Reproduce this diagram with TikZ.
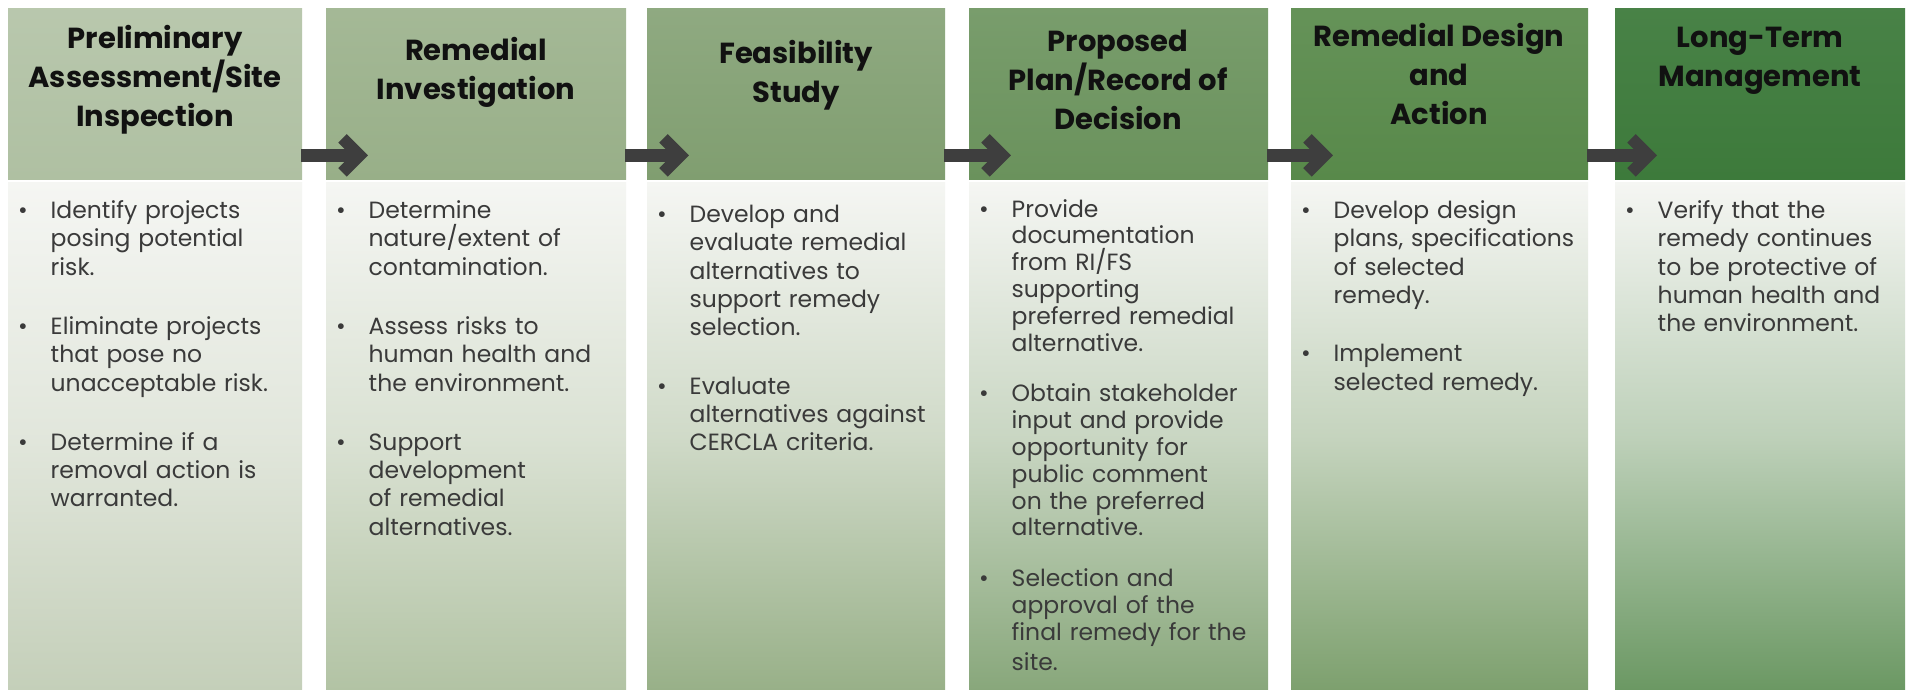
\documentclass[tikz,border=0pt]{standalone}
\usepackage{fontspec}
\setmainfont{Poppins}
\usetikzlibrary{calc}

% header fills, light to dark
\definecolor{hdrA}{HTML}{AFC0A2}
\definecolor{hdrB}{HTML}{98AF88}
\definecolor{hdrC}{HTML}{809E70}
\definecolor{hdrD}{HTML}{6A925C}
\definecolor{hdrE}{HTML}{58894A}
\definecolor{hdrF}{HTML}{3D7A3B}
% body gradient end colours
\definecolor{botA}{HTML}{C4CFB9}
\definecolor{botB}{HTML}{B2C3A4}
\definecolor{botC}{HTML}{98B088}
\definecolor{botD}{HTML}{88A77B}
\definecolor{botE}{HTML}{7DA06E}
\definecolor{botF}{HTML}{6B9863}
\definecolor{topA}{HTML}{F5F6F3}
\definecolor{arrowgray}{HTML}{3E3E3E}
\definecolor{bodytext}{HTML}{3A3A3A}
\definecolor{hdrtext}{HTML}{111111}

\newenvironment{bulletlist}[1]{%
  \begin{list}{\textbullet}{%
    \setlength\leftmargin{42.5pt}\setlength\labelwidth{10pt}%
    \setlength\labelsep{23pt}\setlength\itemsep{#1}%
    \setlength\parsep{0pt}\setlength\topsep{0pt}\setlength\partopsep{0pt}%
    \setlength\itemindent{0pt}\setlength\listparindent{0pt}\setlength\rightmargin{0pt}}}%
  {\end{list}}

% thick chevron arrow from one header box into the next
\newcommand\flowarrow[2]{%
  \coordinate (tip-#1) at ($(#2.west |- #1.south)+(42,-24)$);
  \draw[arrowgray, line width=12.3pt] ($(#1.south east |- tip-#1)+(-1,0)$) -- ($(tip-#1)+(-9,0)$);
  \draw[arrowgray, line width=12pt, line join=miter, miter limit=4]
    ($(tip-#1)+(-25.5,-17)$) -- ($(tip-#1)+(-8.5,0)$) -- ($(tip-#1)+(-25.5,17)$);
}

\tikzset{
  hdrbox/.style={draw=none, inner sep=0pt, anchor=north west, minimum height=171pt},
  bodybox/.style={draw=none, inner sep=0pt, anchor=north west, minimum height=508pt},
  hdrlabel/.style={align=center, inner sep=0pt, text=hdrtext,
      font=\fontsize{29}{39}\selectfont\bfseries},
  bodylabel/.style={anchor=north west, inner sep=0pt, text width=330pt, align=left,
      text=bodytext, font=\fontsize{23.5}{28.3}\selectfont},
}

\begin{document}
\begin{tikzpicture}[x=1pt,y=-1pt]
\useasboundingbox[fill=white] (0,0) rectangle (1907,689);

% header boxes
\node[hdrbox, minimum width=294pt, top color=hdrA!88!white, bottom color=hdrA] (h1) at (8,8) {};
\node[hdrbox, minimum width=300pt, top color=hdrB!88!white, bottom color=hdrB] (h2) at (326,8) {};
\node[hdrbox, minimum width=298pt, top color=hdrC!88!white, bottom color=hdrC] (h3) at (647,8) {};
\node[hdrbox, minimum width=299pt, top color=hdrD!90!white, bottom color=hdrD] (h4) at (969,8) {};
\node[hdrbox, minimum width=297pt, top color=hdrE!92!white, bottom color=hdrE] (h5) at (1291,8) {};
\node[hdrbox, minimum width=290pt, top color=hdrF!94!white, bottom color=hdrF] (h6) at (1615,8) {};

% body panels
\node[bodybox, minimum width=294pt, top color=topA, bottom color=botA, middle color=botA!40!topA] (b1) at (8,182) {};
\node[bodybox, minimum width=300pt, top color=topA, bottom color=botB, middle color=botB!40!topA] (b2) at (326,182) {};
\node[bodybox, minimum width=298pt, top color=topA, bottom color=botC, middle color=botC!40!topA] (b3) at (647,182) {};
\node[bodybox, minimum width=299pt, top color=topA, bottom color=botD, middle color=botD!40!topA] (b4) at (969,182) {};
\node[bodybox, minimum width=297pt, top color=topA, bottom color=botE, middle color=botE!40!topA] (b5) at (1291,182) {};
\node[bodybox, minimum width=290pt, top color=topA, bottom color=botF, middle color=botF!40!topA] (b6) at (1615,182) {};

% header titles
\node[hdrlabel] (t1) at (155,80) {Preliminary\\Assessment/Site\\Inspection};
\node[hdrlabel] (t2) at (476,72) {Remedial\\Investigation};
\node[hdrlabel] (t3) at (796,75) {Feasibility\\Study};
\node[hdrlabel] (t4) at (1118,80) {Proposed\\Plan/Record of\\Decision};
\node[hdrlabel] (t5) at (1439,74) {Remedial Design\\and\\Action};
\node[hdrlabel] (t6) at (1760,61) {Long-Term\\Management};

% arrows between stages
\flowarrow{h1}{h2}
\flowarrow{h2}{h3}
\flowarrow{h3}{h4}
\flowarrow{h4}{h5}
\flowarrow{h5}{h6}

% stage descriptions
\node[bodylabel] (d1) at (8,190) {\begin{bulletlist}{31pt}
\item Identify projects\\posing potential\\risk.
\item Eliminate projects\\that pose no\\unacceptable risk.
\item Determine if a\\removal action is\\warranted.
\end{bulletlist}};
\node[bodylabel] (d2) at (326,190) {\begin{bulletlist}{31pt}
\item Determine\\nature/extent of\\contamination.
\item Assess risks to\\human health and\\the environment.
\item Support\\development\\of remedial\\alternatives.
\end{bulletlist}};
\node[bodylabel] (d3) at (647,194) {\begin{bulletlist}{30pt}
\item Develop and\\evaluate remedial\\alternatives to\\support remedy\\selection.
\item Evaluate\\alternatives against\\CERCLA criteria.
\end{bulletlist}};
\node[bodylabel, font=\fontsize{23.5}{26.8}\selectfont] (d4) at (969,190) {\begin{bulletlist}{24pt}
\item Provide\\documentation\\from RI/FS\\supporting\\preferred remedial\\alternative.
\item Obtain stakeholder\\input and provide\\opportunity for\\public comment\\on the preferred\\alternative.
\item Selection and\\approval of the\\final remedy for the\\[3pt]site.
\end{bulletlist}};
\node[bodylabel] (d5) at (1291,190) {\begin{bulletlist}{30pt}
\item Develop design\\plans, specifications\\of selected\\remedy.
\item Implement\\selected remedy.
\end{bulletlist}};
\node[bodylabel] (d6) at (1615,190) {\begin{bulletlist}{30pt}
\item Verify that the\\remedy continues\\to be protective of\\human health and\\the environment.
\end{bulletlist}};
\end{tikzpicture}
\end{document}
